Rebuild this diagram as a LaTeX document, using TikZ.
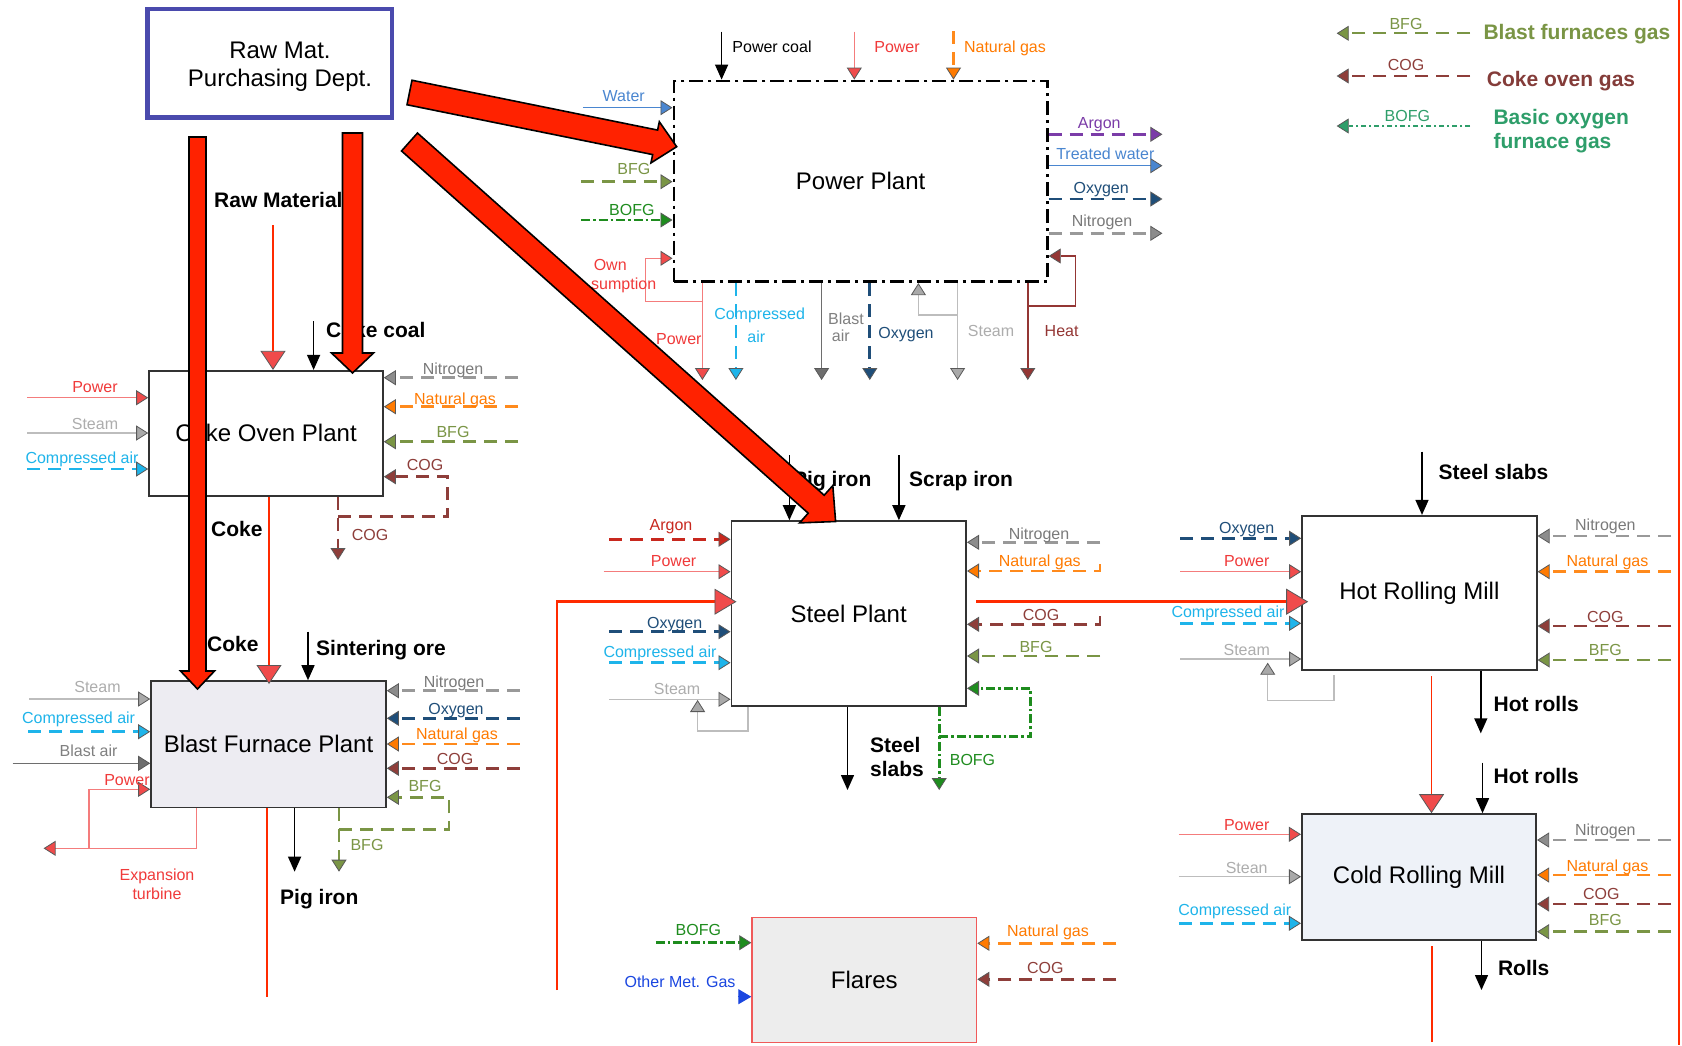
\documentclass[tikz,border=0pt]{standalone}
\usepackage{fontspec}
\setmainfont{Liberation Sans}
\usetikzlibrary{arrows.meta,calc}

% stream colours
\definecolor{cPow}{HTML}{F47C7C}
\definecolor{cPowH}{HTML}{F04B4B}
\definecolor{cPowT}{HTML}{F03A3A}
\definecolor{cStm}{HTML}{BDBDBD}
\definecolor{cStmH}{HTML}{A9A9A9}
\definecolor{cStmT}{HTML}{ADADAD}
\definecolor{cAir}{HTML}{1EB4EA}
\definecolor{cNit}{HTML}{999999}
\definecolor{cNitH}{HTML}{8C8C8C}
\definecolor{cNitT}{HTML}{7A7A7A}
\definecolor{cNG}{HTML}{FF8A1C}
\definecolor{cNGT}{HTML}{FF7A00}
\definecolor{cBFG}{HTML}{7A9545}
\definecolor{cCOG}{HTML}{8E3E3A}
\definecolor{cOxy}{HTML}{1F4E79}
\definecolor{cBOFG}{HTML}{1E8C1E}
\definecolor{cBlair}{HTML}{6E6E6E}
\definecolor{cBlairT}{HTML}{808080}
\definecolor{cArg}{HTML}{C8281E}
\definecolor{cArgP}{HTML}{7B3CA8}
\definecolor{cWat}{HTML}{4A86D0}
\definecolor{cHeat}{HTML}{943634}
\definecolor{cFlow}{HTML}{FF2A00}
\definecolor{cBig}{HTML}{FF2200}
\definecolor{cRaw}{HTML}{4A4AAD}
\definecolor{cMet}{HTML}{1A46E0}
\definecolor{cLegB}{HTML}{2E9E6A}
\definecolor{cLegC}{HTML}{843C39}
\definecolor{cBF}{HTML}{EDECF2}
\definecolor{cCold}{HTML}{EEF2F8}
\definecolor{cFlare}{HTML}{EDEDED}
\definecolor{cFlareB}{HTML}{F05A5A}

\newcounter{lbc}
% feed lines: name, style, free end, box
\newcommand\inW[4]{\coordinate (#1) at (#3);\draw[#2] (#1) -- (#1 -| #4.west);}
\newcommand\inE[4]{\coordinate (#1) at (#3);\draw[#2] (#1) -- (#1 -| #4.east);}
\newcommand\inN[4]{\coordinate (#1) at (#3);\draw[#2] (#1) -- (#1 |- #4.north);}
\newcommand\outS[4]{\coordinate (#1) at (#3);\draw[#2] (#1 |- #4.south) -- (#1);}
\newcommand\outE[4]{\coordinate (#1) at (#3);\draw[#2] (#1 -| #4.east) -- (#1);}
% labels
\newcommand\lb[3]{\stepcounter{lbc}\node[lab,text=#1] (t\arabic{lbc}) at (#2) {#3};}
\newcommand\lbb[2]{\stepcounter{lbc}\node[blab] (t\arabic{lbc}) at (#1) {#2};}
% wide material arrows: name, start, end, shaft half width, head half width, head length
\newcommand\bigarrow[6]{%
  \coordinate (#1-a) at (#2);\coordinate (#1-b) at (#3);
  \coordinate (#1-h) at ($(#1-b)!#6!(#1-a)$);
  \filldraw[big] ($(#1-a)!#4!90:(#1-b)$) -- ($(#1-h)!#4!90:(#1-b)$)
    -- ($(#1-h)!#5!90:(#1-b)$) -- (#1-b) -- ($(#1-h)!#5!-90:(#1-b)$)
    -- ($(#1-h)!#4!-90:(#1-b)$) -- ($(#1-a)!#4!-90:(#1-b)$) -- cycle;}

\begin{document}
\begin{tikzpicture}[x=1pt,y=-1pt,
  box/.style={draw=black!80,line width=1.6pt,fill=white,inner sep=0pt,
    font=\fontsize{24}{28}\selectfont,align=center},
  lab/.style={font=\fontsize{16}{18}\selectfont,inner sep=0pt,text height=11.5pt,text depth=3.5pt},
  blab/.style={font=\fontsize{21}{24}\selectfont\bfseries,inner sep=0pt,anchor=west,
    text height=15pt,text depth=4.5pt},
  ah/.style={-{Triangle[length=12pt,width=15pt,line width=0.8pt,color=black!65,fill=#1]}},
  thinln/.style={line width=1.4pt},
  dashln/.style={line width=2.8pt,dash pattern=on 13pt off 8pt},
  pw/.style={thinln,draw=cPow,ah=cPowH},
  stm/.style={thinln,draw=cStm,ah=cStmH},
  blair/.style={thinln,draw=cBlair,ah=cBlair},
  wat/.style={line width=1.5pt,draw=cWat,ah=cWat},
  heat/.style={thinln,draw=cHeat,ah=cHeat},
  cair/.style={dashln,draw=cAir,ah=cAir},
  nit/.style={dashln,draw=cNit,ah=cNitH},
  ng/.style={dashln,draw=cNG,ah=cNGT},
  bfg/.style={dashln,draw=cBFG,ah=cBFG},
  cog/.style={dashln,draw=cCOG,ah=cCOG},
  oxy/.style={dashln,draw=cOxy,ah=cOxy},
  arg/.style={dashln,draw=cArg,ah=cArg},
  argp/.style={dashln,draw=cArgP,ah=cArgP},
  bofg/.style={line width=2.6pt,dash pattern=on 9pt off 3pt on 2.5pt off 3pt,draw=cBOFG,ah=cBOFG},
  omg/.style={line width=1pt,draw=cMet,-{Triangle[length=13pt,width=15pt,fill=cMet,color=cMet]}},
  blk/.style={line width=1.4pt,draw=black,-{Triangle[length=15pt,width=13pt,fill=black]}},
  flow/.style={draw=cFlow,line width=2.6pt},
  bighead/.style={-{Triangle[length=22pt,width=26pt,line width=0.8pt,color=black!65,fill=cPowH]}},
  rmflow/.style={draw=cFlow,line width=1.6pt,
    -{Triangle[length=19pt,width=25pt,line width=0.8pt,color=black!65,fill=cPowH]}},
  big/.style={fill=cBig,draw=black,line width=1.6pt,line join=miter},
  leg/.style={line width=2.2pt}
]
\fill[white] (0,0) rectangle (1682,1045);
\useasboundingbox (0,0) rectangle (1682,1045);

% ---------------- plants ----------------
\node[box,draw=cRaw,line width=4.5pt,minimum width=244.5pt,minimum height=108.3pt] (raw) at (269.75,63.15) {};
\node[font=\fontsize{24}{28}\selectfont,align=center,inner sep=0pt] (rawtxt) at (280,67) {Raw Mat.\\Purchasing Dept.};
\node[box,draw=black,line width=2.8pt,dash pattern=on 14pt off 5pt on 3pt off 5pt,
      minimum width=373.4pt,minimum height=200.7pt] (power) at (860.6,181.35) {Power Plant};
\node[box,minimum width=234pt,minimum height=125pt] (coke) at (266,433.2) {Coke Oven Plant};
\node[box,fill=cBF,minimum width=235pt,minimum height=126.3pt] (bf) at (268.5,744.15) {Blast Furnace Plant};
\node[box,minimum width=234.9pt,minimum height=185pt] (steel) at (848.75,613.5) {Steel Plant};
\node[box,minimum width=234.8pt,minimum height=154.3pt] (hot) at (1419.4,592.85) {Hot Rolling Mill};
\node[box,fill=cCold,minimum width=234.5pt,minimum height=126pt] (cold) at (1419,877) {Cold Rolling Mill};
\node[box,draw=cFlareB,fill=cFlare,line width=1.4pt,minimum width=224.6pt,minimum height=125.4pt] (flares) at (864.3,980) {Flares};

% ---------------- legend ----------------
\coordinate (lg-b1) at (1470,33.3);\coordinate (lg-b2) at (1336.7,33.3);
\draw[bfg,leg] (lg-b1) -- (lg-b2);
\coordinate (lg-c1) at (1470,76);\coordinate (lg-c2) at (1336.7,76);
\draw[cog,leg] (lg-c1) -- (lg-c2);
\coordinate (lg-o1) at (1470,126);\coordinate (lg-o2) at (1336.7,126);
\draw[leg,dash pattern=on 5pt off 3pt on 2pt off 3pt,draw=cLegB,ah=cLegB] (lg-o1) -- (lg-o2);
\lb{cBFG}{1406,25}{BFG}
\lb{cCOG}{1406,66.7}{COG}
\lb{cLegB}{1407.3,117.3}{BOFG}
\node[blab,text=cBFG] (lg-t1) at (1483.3,34.3) {Blast furnaces gas};
\node[blab,text=cLegC] (lg-t2) at (1486.7,81.7) {Coke oven gas};
\node[blab,text=cLegB,align=left,font=\fontsize{21}{24}\selectfont\bfseries,text height=,text depth=] (lg-t3) at (1493.3,131) {Basic oxygen\\furnace gas};

% ---------------- power plant ----------------
\inN{pp-coal}{blk}{721.6,31.7}{power}
\inN{pp-pwr}{pw}{854.3,31.7}{power}
\inN{pp-ng}{ng}{953.5,31}{power}
\lb{black}{772,48.3}{Power coal}
\lb{cPowT}{897,48.3}{Power}
\lb{cNGT}{1005,48.3}{Natural gas}
\inW{pp-wat}{wat}{582.9,107.7}{power}
\inW{pp-bfg}{bfg}{580.8,181.7}{power}
\inW{pp-bofg}{bofg}{581,220}{power}
\lb{cWat}{623.7,97.3}{Water}
\lb{cBFG}{633.9,170}{BFG}
\lb{cBOFG}{631.8,211.7}{BOFG}
% own consumption and power export
\outS{pp-o1}{pw}{702.4,380}{power}
\draw[pw] (702.4,301.7) -- (645.3,301.7) -- (645.3,258.3) -- (645.3,258.3 -| power.west);
\lb{cPowT}{610.2,266.7}{Own}
\lb{cPowT}{623.7,285}{sumption}
\lb{cPowT}{678.8,340}{Power}
\outS{pp-o2}{cair}{735.9,380}{power}
\lb{cAir}{759.6,315}{Compressed}
\lb{cAir}{756.3,338.3}{air}
\outS{pp-o3}{blair}{821.6,380}{power}
\lb{cBlairT}{846,320}{Blast}
\lb{cBlairT}{840.8,337}{air}
\outS{pp-o4}{oxy}{869.8,380}{power}
\lb{cOxy}{906,334.3}{Oxygen}
\outS{pp-o5}{stm}{957.6,380}{power}
\draw[stm] (957.6,315) -- (918.4,315) -- (918.4,315 |- power.south);
\lb{cStmT}{991,332.3}{Steam}
\outS{pp-o6}{heat}{1027.8,380}{power}
\draw[heat] (1027.8,306) -- (1075.5,306) -- (1075.5,256) -- (1075.5,256 -| power.east);
\lb{cHeat}{1061.6,332.3}{Heat}
\outE{pp-ar}{argp}{1162.4,134.3}{power}
\outE{pp-tw}{wat}{1162.4,165.7}{power}
\outE{pp-ox}{oxy}{1162.4,199}{power}
\outE{pp-ni}{nit}{1162.4,233.3}{power}
\lb{cArgP}{1099.2,124}{Argon}
\lb{cWat}{1105.3,155}{Treated water}
\lb{cOxy}{1101.2,189.3}{Oxygen}
\lb{cNitT}{1102,222.7}{Nitrogen}

% ---------------- coke oven plant ----------------
\lbb{214,202}{Raw Material}
\inN{co-rm}{rmflow}{273,225}{coke}
\inN{co-cc}{blk}{313.6,321}{coke}
\lbb{326,332}{Coke coal}
\inW{co-pw}{pw}{27,397.7}{coke}
\inW{co-st}{stm}{27,433}{coke}
\inW{co-ca}{cair}{27,469}{coke}
\lb{cPowT}{95,388}{Power}
\lb{cStmT}{95,425.7}{Steam}
\lb{cAir}{82,459}{Compressed air}
\inE{co-n}{nit}{518,377.7}{coke}
\inE{co-ng}{ng}{518,406.7}{coke}
\inE{co-bfg}{bfg}{518,441.7}{coke}
\lb{cNitT}{453,370}{Nitrogen}
\lb{cNGT}{455,400}{Natural gas}
\lb{cBFG}{453,433}{BFG}
\outS{co-cog}{cog}{338,560}{coke}
\draw[cog] (338,516.7) -- (447.5,516.7) -- (447.5,476.7) -- (447.5,476.7 -| coke.east);
\lb{cCOG}{425,466.7}{COG}
\lb{cCOG}{370,536.7}{COG}
\coordinate (co-ck) at (269,684);
\draw[rmflow] (co-ck |- coke.south) -- (co-ck);
\lbb{211,531}{Coke}

% ---------------- blast furnace plant ----------------
\lbb{207,646.7}{Coke}
\inN{bf-so}{blk}{308,631.7}{bf}
\lbb{316,650}{Sintering ore}
\inW{bf-st}{stm}{29,699}{bf}
\inW{bf-ca}{cair}{28,731.7}{bf}
\inW{bf-ba}{blair}{12.5,763.3}{bf}
\lb{cStmT}{97.5,688}{Steam}
\lb{cAir}{78.6,719.3}{Compressed air}
\lb{cBlairT}{88.6,752.3}{Blast air}
\coordinate (bf-et) at (43.6,848.3);
\draw[pw] (196.4,0 |- bf.south) -- (196.4,848.3) -- (bf-et);
\draw[pw] (89,848.3) -- (89,789.3) -- (89,789.3 -| bf.west);
\lb{cPowT}{127,781}{Power}
\lb{cPowT}{157,876.7}{Expansion}
\lb{cPowT}{157,895}{turbine}
\inE{bf-n}{nit}{519.6,690.7}{bf}
\inE{bf-o}{oxy}{519.6,718.3}{bf}
\inE{bf-ng}{ng}{519.6,744}{bf}
\inE{bf-cog}{cog}{519.6,768.3}{bf}
\lb{cNitT}{454,683.3}{Nitrogen}
\lb{cOxy}{456,710.7}{Oxygen}
\lb{cNGT}{457,735}{Natural gas}
\lb{cCOG}{455,760}{COG}
\outS{bf-bfg}{bfg}{339,871.7}{bf}
\draw[bfg] (339,829.3) -- (449,829.3) -- (449,797.3) -- (449,797.3 -| bf.east);
\lb{cBFG}{425,787.7}{BFG}
\lb{cBFG}{367,846.7}{BFG}
\outS{bf-pi}{blk}{294.6,871.7}{bf}
\lbb{280,899}{Pig iron}
\coordinate (bf-rl) at (267,997);
\draw[flow,line width=2.2pt] (bf-rl |- bf.south) -- (bf-rl);

% ---------------- steel plant ----------------
\inN{sp-pi}{blk}{789.4,455}{steel}
\lbb{793,481.7}{Pig iron}
\inN{sp-si}{blk}{898.9,455}{steel}
\lbb{908.9,481.7}{Scrap iron}
\inW{sp-ar}{arg}{609.2,539.3}{steel}
\inW{sp-pw}{pw}{603.7,571.7}{steel}
\inW{sp-o}{oxy}{609,631.7}{steel}
\inW{sp-ca}{cair}{609,662.7}{steel}
\inW{sp-st}{stm}{609,699.3}{steel}
\lb{cArg}{671,526.7}{Argon}
\lb{cPowT}{673.6,562.7}{Power}
\lb{cOxy}{674.7,624.3}{Oxygen}
\lb{cAir}{660,653.3}{Compressed air}
\lb{cStmT}{677,690}{Steam}
\draw[stm] (748,0 |- steel.south) -- (748,731) -- (697.6,731) -- (697.6,700);
\coordinate (sp-rbot) at (557,990);
\coordinate (sp-rin) at (557,601.7);
\draw[flow,bighead] (sp-rbot) -- (sp-rin) -- ($(sp-rin -| steel.west)+(6,0)$);
\inE{sp-n}{nit}{1100,542.3}{steel}
\coordinate (sp-ng) at (1100,564);
\draw[ng] (sp-ng) -- (1100,571) -- (1100,571 -| steel.east);
\coordinate (sp-cog) at (1100,616);
\draw[cog] (sp-cog) -- (1100,624.3) -- (1100,624.3 -| steel.east);
\inE{sp-bfg}{bfg}{1100,656}{steel}
\lb{cNitT}{1039,535}{Nitrogen}
\lb{cNGT}{1039.8,562.7}{Natural gas}
\lb{cCOG}{1041,616.7}{COG}
\lb{cBFG}{1036,648.3}{BFG}
\outS{sp-bofg}{bofg}{939.2,790}{steel}
\draw[bofg] (939.2,736.7) -- (1030.6,736.7) -- (1030.6,688.3) -- (1030.6,688.3 -| steel.east);
\lb{cBOFG}{972.5,761.7}{BOFG}
\outS{sp-ss}{blk}{847.5,790}{steel}
\stepcounter{lbc}\node[blab,align=left,text height=,text depth=] (t\arabic{lbc}) at (870,757) {Steel\\slabs};
\coordinate (sp-rout) at (976.2,601.7);
\draw[flow,bighead] (sp-rout) -- ($(sp-rout -| hot.west)+(7,0)$);

% ---------------- hot rolling mill ----------------
\inN{hr-ss}{blk}{1422,451.7}{hot}
\lbb{1438.4,474.3}{Steel slabs}
\inW{hr-o}{oxy}{1180,538.3}{hot}
\inW{hr-pw}{pw}{1180,571.7}{hot}
\inW{hr-ca}{cair}{1180,623.3}{hot}
\inW{hr-st}{stm}{1180,659}{hot}
\lb{cOxy}{1246.7,529.3}{Oxygen}
\lb{cPowT}{1246.7,562.7}{Power}
\lb{cAir}{1228,613.3}{Compressed air}
\lb{cStmT}{1246.7,651.7}{Steam}
\draw[stm] (1334,675) -- (1334,700.7) -- (1267.7,700.7) -- (1267.7,662.7);
\inE{hr-n}{nit}{1671,536}{hot}
\inE{hr-ng}{ng}{1671,571.7}{hot}
\inE{hr-cog}{cog}{1671,626}{hot}
\inE{hr-bfg}{bfg}{1671,660}{hot}
\lb{cNitT}{1605.4,526}{Nitrogen}
\lb{cNGT}{1607.4,562.7}{Natural gas}
\lb{cCOG}{1605.4,618.3}{COG}
\lb{cBFG}{1605.4,651.7}{BFG}
\outS{hr-hr}{blk}{1480.8,733.3}{hot}
\lbb{1493.4,706.7}{Hot rolls}
\coordinate (hc-a) at (1431.5,676);
\draw[rmflow] (hc-a) -- (hc-a |- cold.north);

% ---------------- cold rolling mill ----------------
\inN{cr-hr}{blk}{1482.5,762.7}{cold}
\lbb{1493.4,778.3}{Hot rolls}
\inW{cr-pw}{pw}{1178.8,834.3}{cold}
\inW{cr-st}{stm}{1178.8,876.7}{cold}
\inW{cr-ca}{cair}{1178.8,923.3}{cold}
\lb{cPowT}{1246.7,826}{Power}
\lb{cStmT}{1246.7,869.3}{Stean}
\lb{cAir}{1234.8,911.7}{Compressed air}
\inE{cr-n}{nit}{1671,840}{cold}
\inE{cr-ng}{ng}{1671,875}{cold}
\inE{cr-cog}{cog}{1671,904}{cold}
\inE{cr-bfg}{bfg}{1671,931.7}{cold}
\lb{cNitT}{1605.4,831.7}{Nitrogen}
\lb{cNGT}{1607.4,867.7}{Natural gas}
\lb{cCOG}{1601.3,895}{COG}
\lb{cBFG}{1605.4,921.7}{BFG}
\outS{cr-r}{blk}{1481.5,990}{cold}
\lbb{1497.8,970}{Rolls}
\coordinate (cr-rl) at (1432.3,1042);
\draw[flow,line width=2.2pt] (1432.3,946) -- (cr-rl);

% ---------------- flares ----------------
\inW{fl-bofg}{bofg}{655.8,942.7}{flares}
\inW{fl-om}{omg}{738,996.7}{flares}
\lb{cBOFG}{698.4,931.7}{BOFG}
\lb{cMet}{680,983.3}{Other Met. Gas}
\inE{fl-ng}{ng}{1116.4,943.3}{flares}
\inE{fl-cog}{cog}{1116.4,979.3}{flares}
\lb{cNGT}{1048,932.7}{Natural gas}
\lb{cCOG}{1045.4,969.3}{COG}

% right-hand boundary line
\coordinate (edge-top) at (1679,0);
\coordinate (edge-bot) at (1679,1045);
\draw[flow] (edge-top) -- (edge-bot);

% ---------------- raw material supply arrows ----------------
\bigarrow{ba1}{197.5,137}{197.5,689}{8.5pt}{17pt}{18pt}
\bigarrow{ba2}{352.5,133}{352.5,373}{10pt}{21pt}{20pt}
\bigarrow{ba3}{409.5,92.5}{676.7,146.7}{12.5pt}{21pt}{22pt}
\bigarrow{ba4}{409.5,142}{835.6,521.5}{12pt}{25pt}{26pt}
\end{tikzpicture}
\end{document}
